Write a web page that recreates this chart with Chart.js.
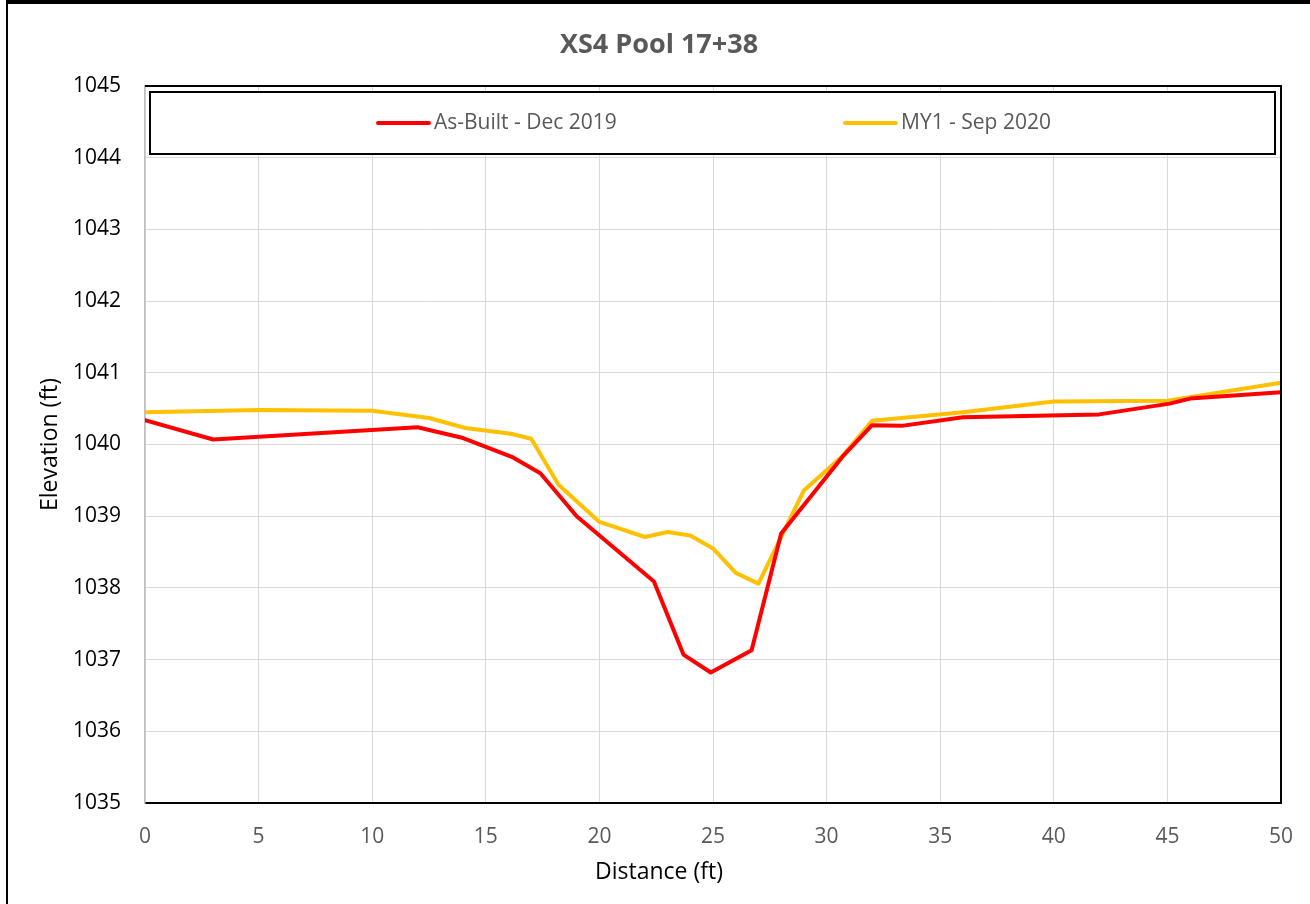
<!DOCTYPE html>
<html>
<head>
<meta charset="utf-8">
<title>XS4 Pool 17+38</title>
<script src="https://cdn.jsdelivr.net/npm/chart.js@4.4.1/dist/chart.umd.min.js"></script>
<style>
  html, body { margin: 0; padding: 0; background: #fff; }
  #wrap { position: relative; width: 1310px; height: 904px; overflow: hidden; }
  #chart { position: absolute; left: 0; top: 0; }
  #frame {
    position: absolute; left: 6px; top: 0; width: 1310px; height: 910px;
    border-top: 4px solid #000; border-left: 2px solid #000;
    pointer-events: none;
  }
</style>
</head>
<body>
<div id="wrap">
  <canvas id="chart" width="1318" height="904"></canvas>
  <div id="frame"></div>
</div>
<script>
// station (ft) and elevation (ft) for each survey
const asBuiltDist = [0, 3, 12, 14, 16.2, 17.4, 19, 22.4, 23.7, 24.9, 26.7, 28, 30.7, 32, 33.3, 36, 42, 45.1, 46, 50];
const asBuiltElev = [1040.34, 1040.07, 1040.24, 1040.09, 1039.82, 1039.6, 1039.0, 1038.09, 1037.07, 1036.82,
  1037.13, 1038.76, 1039.83, 1040.27, 1040.26, 1040.38, 1040.42, 1040.57, 1040.64, 1040.73];

const my1Dist = [0, 5, 10, 12.5, 14.1, 16.1, 17, 18.2, 20, 22, 23, 24, 25, 26, 27, 29, 30.7, 32, 36, 40, 45, 50];
const my1Elev = [1040.45, 1040.48, 1040.47, 1040.37, 1040.23, 1040.15, 1040.08, 1039.44, 1038.92, 1038.71,
  1038.78, 1038.73, 1038.55, 1038.21, 1038.06, 1039.36, 1039.84, 1040.33, 1040.45, 1040.6, 1040.61, 1040.86];

const seriesLabels = ['As-Built - Dec 2019', 'MY1 - Sep 2020'];
const seriesColors = ['#ff0000', '#ffc000'];

const xMin = 0, xMax = 50, xStep = 5;
const yMin = 1035, yMax = 1045, yStep = 1;

const FONT = '"Open Sans", Lato, sans-serif';

const toPoints = (xs, ys) => xs.map((x, i) => ({ x: x, y: ys[i] }));

// top and right edges of the plot area
const plotFrame = {
  id: 'plotFrame',
  afterDraw(chart) {
    const { ctx, chartArea: a } = chart;
    ctx.save();
    ctx.strokeStyle = '#000';
    ctx.lineWidth = 2;
    ctx.beginPath();
    ctx.moveTo(a.left, a.top);
    ctx.lineTo(a.right, a.top);
    ctx.lineTo(a.right, a.bottom);
    ctx.stroke();
    ctx.restore();
  }
};

// boxed legend sitting inside the plot, like the Excel one
const boxLegend = {
  id: 'boxLegend',
  afterDraw(chart) {
    const ctx = chart.ctx;
    const box = { l: 150, t: 92, r: 1275, b: 154 };
    const starts = [378, 845];
    const cy = (box.t + box.b) / 2;
    ctx.save();
    ctx.fillStyle = '#fff';
    ctx.fillRect(box.l, box.t, box.r - box.l, box.b - box.t);
    ctx.strokeStyle = '#000';
    ctx.lineWidth = 2;
    ctx.strokeRect(box.l, box.t, box.r - box.l, box.b - box.t);
    ctx.font = '21px ' + FONT;
    ctx.textBaseline = 'middle';
    ctx.textAlign = 'left';
    chart.data.datasets.forEach((ds, i) => {
      const x0 = starts[i];
      ctx.strokeStyle = ds.borderColor;
      ctx.lineWidth = 4;
      ctx.lineCap = 'round';
      ctx.beginPath();
      ctx.moveTo(x0, cy);
      ctx.lineTo(x0 + 51, cy);
      ctx.stroke();
      ctx.fillStyle = '#595959';
      ctx.fillText(ds.label, x0 + 56, cy);
    });
    ctx.restore();
  }
};

new Chart(document.getElementById('chart'), {
  type: 'scatter',
  data: {
    datasets: [
      {
        label: seriesLabels[0],
        data: toPoints(asBuiltDist, asBuiltElev),
        borderColor: seriesColors[0],
        backgroundColor: seriesColors[0],
      },
      {
        label: seriesLabels[1],
        data: toPoints(my1Dist, my1Elev),
        borderColor: seriesColors[1],
        backgroundColor: seriesColors[1],
      }
    ]
  },
  options: {
    responsive: false,
    animation: false,
    devicePixelRatio: 1,
    layout: { padding: 0 },
    datasets: {
      scatter: {
        showLine: true,
        borderWidth: 4,
        pointRadius: 0,
        pointHoverRadius: 0,
        tension: 0,
        borderJoinStyle: 'round',
        borderCapStyle: 'round',
      }
    },
    plugins: {
      legend: { display: false },
      tooltip: { enabled: false },
      title: {
        display: true,
        text: 'XS4 Pool 17+38',
        color: '#595959',
        font: { family: FONT, size: 27, weight: 'bold' },
        padding: { top: 28.8, bottom: 24.8 }
      },
      // x axis title, centred on the whole chart like Excel does
      subtitle: {
        display: true,
        position: 'bottom',
        text: 'Distance (ft)',
        color: '#000',
        font: { family: FONT, size: 23 },
        padding: { top: 0, bottom: 18.2 }
      }
    },
    scales: {
      x: {
        type: 'linear',
        min: xMin,
        max: xMax,
        ticks: {
          stepSize: xStep,
          color: '#595959',
          font: { family: FONT, size: 21 },
          padding: 21,
          maxRotation: 0
        },
        grid: { color: '#d9d9d9', lineWidth: 1, drawTicks: false },
        border: { color: '#000', width: 2 },
        afterFit(scale) { scale.height = 55.2; }
      },
      y: {
        type: 'linear',
        min: yMin,
        max: yMax,
        ticks: {
          stepSize: yStep,
          color: '#000',
          font: { family: FONT, size: 21 },
          padding: 24,
          callback: (v) => String(v)
        },
        grid: { color: '#d9d9d9', lineWidth: 1, drawTicks: false },
        border: { color: '#bfbfbf', width: 1.5 },
        title: {
          display: true,
          text: 'Elevation (ft)',
          color: '#000',
          font: { family: FONT, size: 23 },
          padding: { top: 36.2, bottom: 0 }
        },
        afterFit(scale) { scale.width = 145; }
      },
      // empty right-hand gutter so the plot ends at the same place
      gutter: {
        type: 'linear',
        position: 'right',
        display: true,
        ticks: { display: false },
        grid: { display: false },
        border: { display: false },
        afterFit(scale) { scale.width = 37; }
      }
    }
  },
  plugins: [plotFrame, boxLegend]
});
</script>
</body>
</html>
